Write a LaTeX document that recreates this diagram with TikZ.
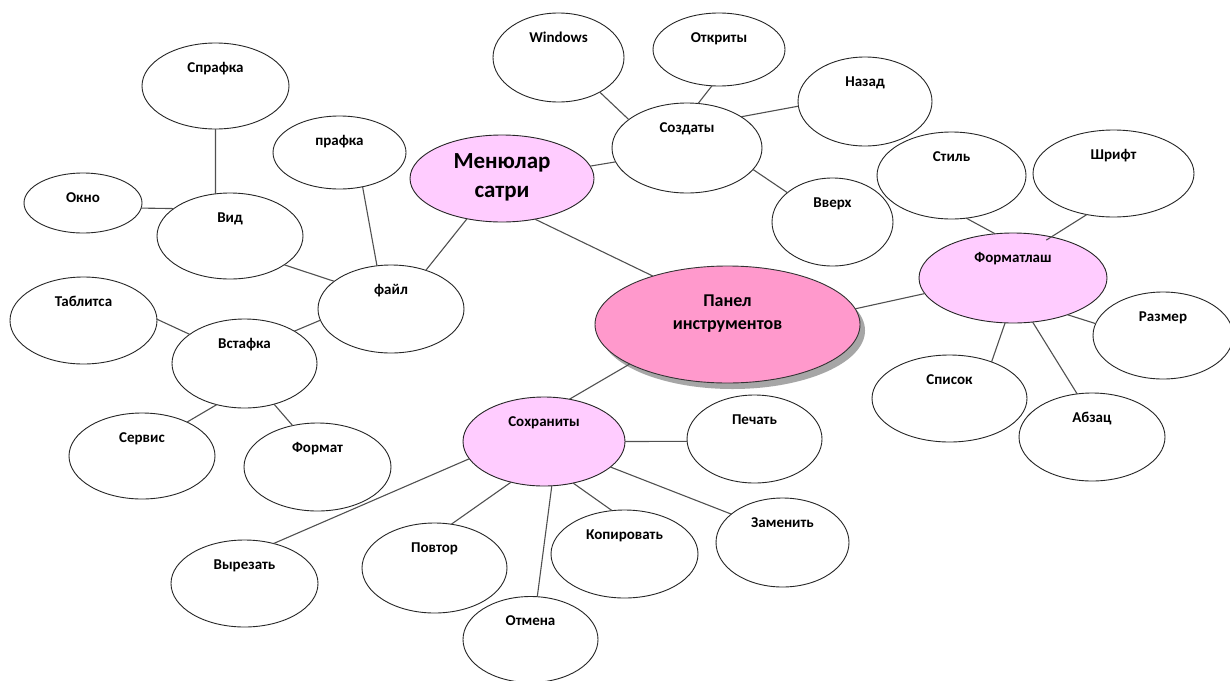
\documentclass[tikz,border=0pt]{standalone}
\usepackage{fontspec}
\setmainfont{Carlito}
\usetikzlibrary{shapes.geometric,shadows}
\definecolor{lightpink}{HTML}{FFCCFF}
\definecolor{rosepink}{HTML}{FF99CC}
\definecolor{edgegray}{HTML}{505050}
\newcommand{\bub}[7][]{%
  \node[bubble,minimum width={2*#5},minimum height={2*#6},#1] (#2) at (#3,#4) {};
  \node[lbl] (#2-t) at ([yshift=-29pt]#2.north) {#7};}
\begin{document}
\begin{tikzpicture}[x=1pt,y=-1pt,
  bubble/.style={ellipse, draw=black!85, line width=0.9pt, fill=white, inner sep=0pt, outer sep=0pt},
  sub/.style={fill=lightpink},
  lbl/.style={anchor=base, inner sep=0pt, font=\fontsize{15}{18}\selectfont\bfseries},
  conn/.style={draw=edgegray, line width=1.1pt}]
\useasboundingbox[fill=white] (0,0) rectangle (1230,680);

% left cluster
\bub{spr}{215.5}{86}{73.5}{43}{Спрафка}
\bub{okno}{83}{203}{59}{30}{Окно}
\bub{vid}{230}{236}{73}{43}{Вид}
\bub{prafka}{339.5}{152.5}{66.5}{36.5}{прафка}
\bub{fayl}{391}{309}{73}{44}{файл}
\bub{tabl}{83.5}{320.5}{73.5}{43.5}{Таблитса}
\bub{vst}{244.5}{363.5}{72.5}{44.5}{Встафка}
\bub{serv}{142}{456}{73}{43}{Сервис}
\bub{form}{317.5}{467}{73.5}{44}{Формат}

% menu
\node[bubble,sub,minimum width=184,minimum height=87] (menu) at (502,178.5) {};
\node[lbl,anchor=base,align=center,font=\fontsize{23}{29}\selectfont\bfseries] (menu-t) at ([yshift=-62pt]menu.north) {Менюлар\\сатри};

% top cluster
\bub{win}{558.5}{57.5}{65.5}{44.5}{Windows}
\bub{otkr}{719}{49.5}{66}{36.5}{Откриты}
\bub{sozd}{687}{148}{75}{45}{Создаты}
\bub{nazad}{865}{101.5}{67}{44.5}{Назад}
\bub{vverh}{832.5}{222}{60.5}{44}{Вверх}

% centre
\node[bubble,fill=rosepink,draw=black!80,minimum width=265,minimum height=117,
  drop shadow={shadow xshift=5pt,shadow yshift=-6pt,fill=black!35,opacity=1}] (panel) at (727.5,324.5) {};
\node[lbl,anchor=base,align=center,font=\fontsize{18}{23}\selectfont\bfseries] (panel-t) at ([yshift=-63pt]panel.north) {Панел\\инструментов};

% right cluster
\bub{stil}{951.5}{175.5}{74.5}{43.5}{Стиль}
\bub{shrift}{1113.5}{173.5}{80.5}{43.5}{Шрифт}
\bub[sub]{formatl}{1013}{278}{94}{45}{Форматлаш}
\bub{razmer}{1163}{335.5}{70}{43.5}{Размер}
\bub{spisok}{949.5}{398.5}{77.5}{43.5}{Список}
\bub{abzac}{1092}{437}{73}{44}{Абзац}

% bottom cluster
\bub[sub]{sohr}{544}{441.5}{81}{44.5}{Сохраниты}
\bub{pechat}{754.5}{439}{67.5}{44}{Печать}
\bub{zamen}{782.5}{542.5}{66.5}{44.5}{Заменить}
\bub{kopir}{624.5}{554}{73.5}{44}{Копировать}
\bub{povtor}{434.5}{568}{72.5}{45}{Повтор}
\bub{otmena}{530.5}{639.5}{67.5}{43}{Отмена}
\bub{vyrez}{244.5}{583.5}{73.5}{43.5}{Вырезать}

% connectors
\draw[conn] (spr.270) -- (vid.109);
\draw[conn] (okno.-5) -- (vid.154);
\draw[conn] (prafka.-56) -- (fayl.108);
\draw[conn] (vid.-28) -- (fayl.154);
\draw[conn] (menu.229) -- (fayl.48);
\draw[conn] (fayl.189) -- (vst.33);
\draw[conn] (tabl.1) -- (vst.152);
\draw[conn] (vst.236) -- (serv.37);
\draw[conn] (vst.-54) -- (form.121);
\draw[conn] (menu.8) -- (sozd.191);
\draw[conn] (win.-40) -- (sozd.154);
\draw[conn] (otkr.259) -- (sozd.76);
\draw[conn] (sozd.30) -- (nazad.184);
\draw[conn] (sozd.-18) -- (vverh.147);
\draw[conn] (menu.-51) -- (panel.147);
\draw[conn] (panel.7) -- (formatl.190);
\draw[conn] (stil.-71) -- (formatl.112);
\draw[conn,shorten >=-6pt] (shrift.237) -- (formatl.47);
\draw[conn] (formatl.-34) -- (razmer.170);
\draw[conn] (formatl.260) -- (spisok.41);
\draw[conn] (formatl.-66) -- (abzac.109);
\draw[conn] (panel.202) -- (sohr.59);
\draw[conn] (sohr.0) -- (pechat.182);
\draw[conn] (sohr.-21) -- (zamen.151);
\draw[conn] (sohr.-55) -- (kopir.106);
\draw[conn] (sohr.-80) -- (otmena.81);
\draw[conn] (sohr.231) -- (povtor.69);
\draw[conn] (sohr.193) -- (vyrez.54);
\end{tikzpicture}
\end{document}
